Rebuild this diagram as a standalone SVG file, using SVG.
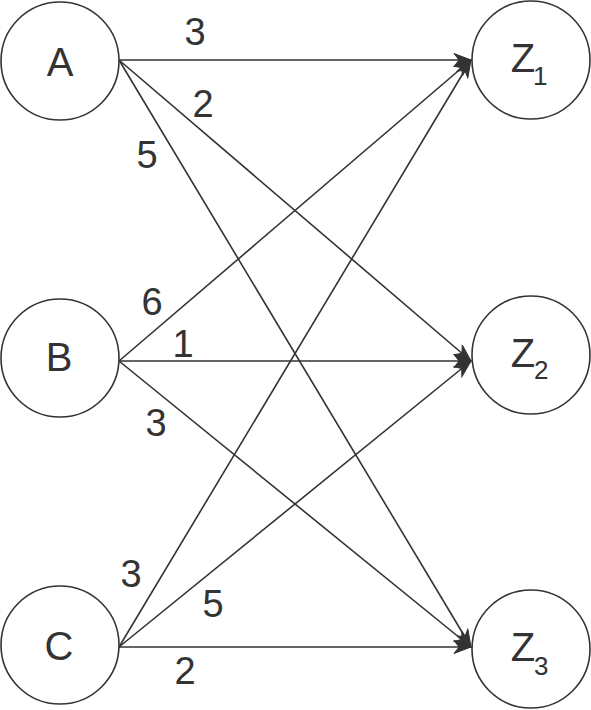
<svg xmlns="http://www.w3.org/2000/svg" width="591" height="710" viewBox="0 0 591 710">
<style>
.node{fill:#fff;stroke:#333;stroke-width:1.6}
.lbl{font-family:"Liberation Sans",Arial,sans-serif;font-size:40px;fill:#333;text-anchor:middle}
.sub{font-family:"Liberation Sans",Arial,sans-serif;font-size:26px;fill:#333}
.edge{fill:none;stroke:#333;stroke-width:1.6;marker-end:url(#arr)}
.w{font-family:"Liberation Sans",Arial,sans-serif;font-size:38px;fill:#333;text-anchor:middle}
</style>
<defs>
<marker id="arr" markerUnits="userSpaceOnUse" markerWidth="20" markerHeight="14" viewBox="-18 -7 20 14" refX="0" refY="0" orient="auto">
<path d="M0,0 L-17,-6.5 L-12,0 L-17,6.5 Z" fill="#333" stroke="#333" stroke-width="1"/>
</marker>
</defs>
<g id="connectors">
<line class="edge" x1="119" y1="60" x2="471" y2="60"/>
<line class="edge" x1="119" y1="60" x2="471" y2="361"/>
<line class="edge" x1="119" y1="60" x2="471" y2="647"/>
<line class="edge" x1="119" y1="361" x2="471" y2="60"/>
<line class="edge" x1="119" y1="361" x2="471" y2="361"/>
<line class="edge" x1="119" y1="361" x2="471" y2="647"/>
<line class="edge" x1="119" y1="647" x2="471" y2="60"/>
<line class="edge" x1="119" y1="647" x2="471" y2="361"/>
<line class="edge" x1="119" y1="647" x2="471" y2="647"/>
</g>
<g id="weights">
<text class="w" x="195" y="45">3</text>
<text class="w" x="203" y="117">2</text>
<text class="w" x="147" y="168">5</text>
<text class="w" x="152" y="315">6</text>
<text class="w" x="183" y="357">1</text>
<text class="w" x="156" y="436">3</text>
<text class="w" x="131" y="587">3</text>
<text class="w" x="213" y="617">5</text>
<text class="w" x="185" y="684">2</text>
</g>
<g id="node-A"><circle class="node" cx="60" cy="61" r="59"/><text class="lbl" x="60" y="76">A</text></g>
<g id="node-B"><circle class="node" cx="60" cy="358" r="59"/><text class="lbl" x="59" y="371">B</text></g>
<g id="node-C"><circle class="node" cx="60" cy="645" r="59"/><text class="lbl" x="59" y="660">C</text></g>
<g id="node-Z1"><circle class="node" cx="531" cy="60" r="59"/><text class="lbl" x="523" y="72">Z</text><text class="sub" x="533" y="85">1</text></g>
<g id="node-Z2"><circle class="node" cx="531" cy="355" r="59"/><text class="lbl" x="523" y="367">Z</text><text class="sub" x="534" y="379">2</text></g>
<g id="node-Z3"><circle class="node" cx="531" cy="649" r="59"/><text class="lbl" x="523" y="661">Z</text><text class="sub" x="534" y="675">3</text></g>
</svg>
